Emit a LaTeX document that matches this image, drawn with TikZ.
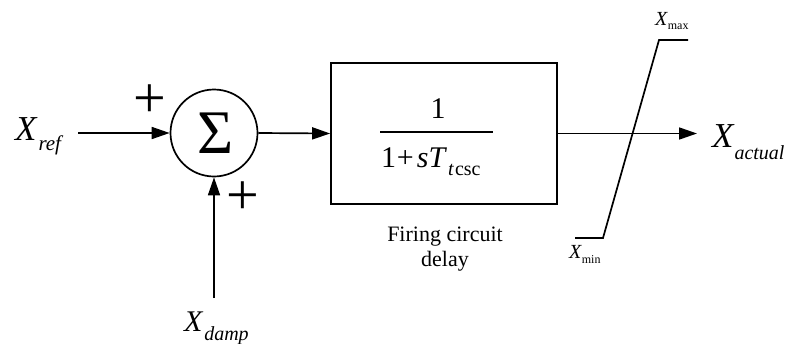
\documentclass[tikz,border=0pt]{standalone}
\usepackage{fontspec}
\setmainfont{Liberation Serif}
\usetikzlibrary{arrows.meta}
\newcommand{\fs}[1]{\fontsize{#1}{#1}\selectfont}
\tikzset{
  wire/.style={line width=1.7pt},
  sig/.style={wire,-{Triangle[length=18pt,width=12pt]}},
  lbl/.style={inner sep=0pt, outer sep=0pt},
}
\begin{document}
\begin{tikzpicture}[x=1pt,y=-1pt]
\useasboundingbox (0,0) rectangle (786,343);
% summing junction
\node[circle, draw, wire, minimum size=87pt, inner sep=0pt] (sum) at (214,133) {};
\node[lbl] (sigma) at (216,133) {\fs{62}Σ};
% transfer block
\node[draw, wire, minimum width=226pt, minimum height=141pt, inner sep=0pt] (box) at (444,133.5) {};
\node[lbl, anchor=base] (num) at (438,118) {\fs{30}1};
\draw[line width=1.3pt] (380,132) -- (493,132);
\node[lbl, anchor=base west] (den) at (381,167) {\fs{30}1\kern1pt+\kern3pt\textit{sT}\raisebox{-8pt}{\fs{20}\kern1pt\textit{t}\kern1pt csc}};
% labels
\node[lbl, anchor=base west] (xref) at (15,140) {\fs{35}\textit{X}\raisebox{-10pt}{\fs{21}\kern1pt\textit{ref}}};
\node[lbl, anchor=base west] (xact) at (712,147) {\fs{35}\textit{X}\raisebox{-12pt}{\fs{20}\textit{actual}}};
\node[lbl, anchor=base west] (xdamp) at (184,331) {\fs{30}\textit{X}\raisebox{-9pt}{\fs{20}\kern1pt\textit{damp}}};
\node[lbl, anchor=base west] (xmax) at (655,25) {\fs{20}\textit{X}\raisebox{-4pt}{\fs{12}max}};
\node[lbl, anchor=base west] (xmin) at (569,258) {\fs{20}\textit{X}\raisebox{-5pt}{\fs{12}min}};
\node[lbl] (plus1) at (149.5,101.5) {\fs{58}+};
\node[lbl] (plus2) at (243,198.5) {\fs{58}+};
\node[lbl, align=center] (fire) at (445,249) {\fs{22}Firing circuit\\[4pt]\fs{22}delay};
% connectors
\coordinate (refin) at (78,133);
\coordinate (actout) at (697,133.5);
\coordinate (dampin) at (214,298);
\draw[sig] (refin) -- (sum.west);
\draw[sig] (sum.east) -- (box.west);
\draw[sig] (box.east) -- (actout);
\draw[sig] (dampin) -- (sum.south);
% limiter
\draw[wire] (575,238) -- (603,238) -- (659,40) -- (688,40);
\end{tikzpicture}
\end{document}
